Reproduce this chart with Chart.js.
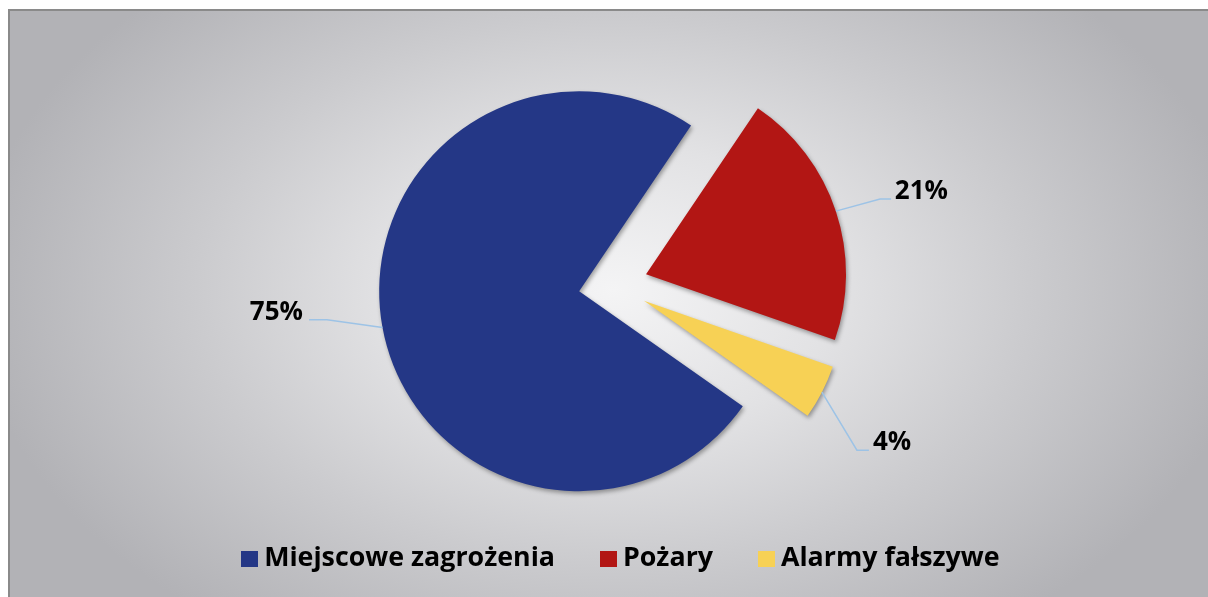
<!DOCTYPE html>
<html><head><meta charset="utf-8">
<script src="https://cdn.jsdelivr.net/npm/chart.js@4.4.1/dist/chart.umd.min.js"></script>
<style>
html,body{margin:0;padding:0;background:#fff;width:1208px;height:597px;overflow:hidden;}
#frame{position:absolute;left:8px;top:9px;width:1198px;height:586px;border-left:2px solid #8a8a8a;border-top:2px solid #8a8a8a;
background:radial-gradient(ellipse 640px 420px at 603px 279px,#f4f4f5 0%,#e2e2e4 35%,#cbcbce 65%,#b2b2b6 100%);}
#c{position:absolute;left:0;top:0;}
</style></head><body>
<div id="frame"></div>
<canvas id="c" width="1208" height="597"></canvas>
<script>
const categories = ['Miejscowe zagrożenia', 'Pożary', 'Alarmy fałszywe'];
const values = [74.7, 20.9, 4.4];
const sliceColors = ['#243786', '#b21614', '#f7d155'];

const FONT = "'Open Sans', 'DejaVu Sans', sans-serif";
const boxCache = {};
function boxImg(color){
  if(boxCache[color]) return boxCache[color];
  const c=document.createElement('canvas'); c.width=17; c.height=16;
  const x=c.getContext('2d'); x.fillStyle=color; x.fillRect(0,0,17,16);
  return boxCache[color]=c;
}

const explodePlugin = {
  id:'explode',
  beforeDatasetDraw(chart,args,opts){
    const ctx=chart.ctx;
    args.meta.data.forEach((arc,i)=>{
      const d=opts.distance[i]||0;
      const mid=(arc.startAngle+arc.endAngle)/2;
      ctx.save();
      ctx.shadowColor=opts.shadowColor; ctx.shadowBlur=opts.shadowBlur;
      ctx.shadowOffsetX=opts.shadowX; ctx.shadowOffsetY=opts.shadowY;
      ctx.translate(Math.cos(mid)*d,Math.sin(mid)*d);
      arc.draw(ctx);
      ctx.restore();
    });
    return false;
  }
};

const labelPlugin = {
  id:'sliceLabels',
  afterDatasetsDraw(chart,args,opts){
    const ctx=chart.ctx, meta=chart.getDatasetMeta(0), ds=chart.data.datasets[0];
    const total=ds.data.reduce((a,b)=>a+b,0);
    const dist=chart.options.plugins.explode.distance;
    meta.data.forEach((arc,i)=>{
      const mid=(arc.startAngle+arc.endAngle)/2;
      const r=(dist[i]||0)+arc.outerRadius;
      const ex=arc.x+Math.cos(mid)*r, ey=arc.y+Math.sin(mid)*r;
      const L=opts.leaders[i];
      ctx.save();
      ctx.strokeStyle=opts.lineColor; ctx.lineWidth=opts.lineWidth;
      ctx.beginPath(); ctx.moveTo(ex,ey);
      ctx.lineTo(ex+L.elbow[0],ey+L.elbow[1]);
      ctx.lineTo(ex+L.end[0],ey+L.end[1]); ctx.stroke();
      ctx.font=opts.font; ctx.fillStyle='#000'; ctx.textBaseline='alphabetic'; ctx.textAlign=L.align;
      ctx.fillText(Math.round(ds.data[i]/total*100)+'%',ex+L.text[0],ey+L.text[1]);
      ctx.restore();
    });
  }
};

const legendShift = {
  id:'legendShift',
  afterLayout(chart,args,opts){
    const lg=chart.legend; if(!lg||!lg.lineWidths) return;
    const pad=lg.options.labels.padding;
    const natural=(lg.left+pad+lg.right-lg.lineWidths[0])/2;
    const dx=opts.startX-natural;
    lg.left+=dx; lg.right+=dx;
  }
};

function make(){
  new Chart(document.getElementById('c'),{
    type:'pie',
    data:{labels:categories,datasets:[{data:values,backgroundColor:sliceColors,borderWidth:0}]},
    options:{
      responsive:false, animation:false, events:[],
      rotation:125.1, radius:200,
      layout:{padding:{top:76.6,left:18.4,right:0,bottom:14.75}},
      plugins:{
        tooltip:{enabled:false},
        legend:{position:'bottom',labels:{
          usePointStyle:true, pointStyleWidth:2.5, padding:52, color:'#000',
          font:{family:FONT,size:26.8,weight:'bold'},
          generateLabels(chart){
            const ds=chart.data.datasets[0];
            return chart.data.labels.map((t,i)=>({text:t,fillStyle:ds.backgroundColor[i],strokeStyle:ds.backgroundColor[i],
              lineWidth:0,fontColor:'#000',pointStyle:boxImg(ds.backgroundColor[i]),hidden:!chart.getDataVisibility(i),index:i}));
          }
        }},
        explode:{distance:[34.6,34.6,34.6],shadowColor:'rgba(0,0,0,0.35)',shadowBlur:4,shadowX:1.5,shadowY:2.5},
        sliceLabels:{font:"bold 26px "+FONT,lineColor:'#9dc3e6',lineWidth:1.5,leaders:[
          {elbow:[-55.5,-7.8],end:[-73.5,-7.8],text:[-79.5,-7.8],align:'right'},
          {elbow:[44.2,-12.2],end:[55.2,-12.2],text:[59,-12.2],align:'left'},
          {elbow:[35,58],end:[47,58],text:[51,58],align:'left'}
        ]},
        legendShift:{startX:248.25}
      }
    },
    plugins:[explodePlugin,labelPlugin,legendShift]
  });
}
Promise.all([document.fonts.load("bold 26px 'Open Sans'"),document.fonts.load("bold 26.8px 'Open Sans'")]).then(make,make);
</script>
</body></html>
